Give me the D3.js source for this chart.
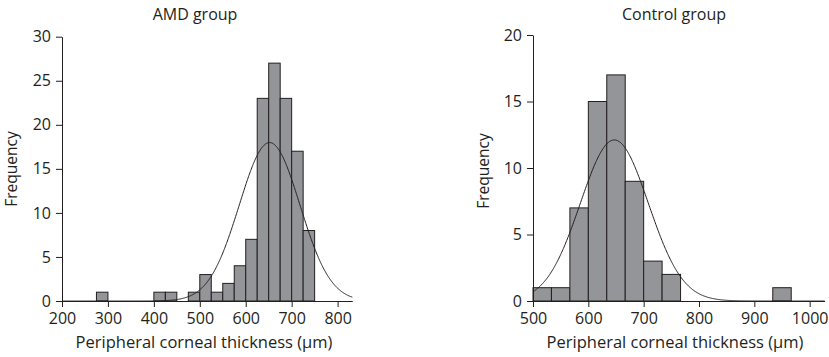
<!DOCTYPE html>
<html>
<head>
<meta charset="utf-8">
<script src="https://cdn.jsdelivr.net/npm/d3@7"></script>
<style>
  body { margin: 0; background: #fff; }
  svg text { font-family: "Open Sans", sans-serif; fill: #231f20; }
</style>
</head>
<body>
<svg id="chart" width="829" height="357"></svg>
<script>
// AMD group: 25 µm bins
const amdBinStarts = [275, 400, 425, 475, 500, 525, 550, 575, 600, 625, 650, 675, 700, 725]
const amdCounts    = [1, 1, 1, 1, 3, 1, 2, 4, 7, 23, 27, 23, 17, 8]
const amdBinWidth = 25
const amdFit = { mean: 652, sd: 66 }
const amdXTicks = [200, 300, 400, 500, 600, 700, 800]
const amdYTicks = [0, 5, 10, 15, 20, 25, 30]

// Control group: 33.3 µm bins
const ctrlBinWidth = 100 / 3
const ctrlBinStarts = [500, 500 + 100/3, 500 + 200/3, 600, 600 + 100/3, 600 + 200/3, 700, 700 + 100/3, 900 + 100/3]
const ctrlCounts    = [1, 1, 7, 15, 17, 9, 3, 2, 1]
const ctrlFit = { mean: 647, sd: 61.5 }
const ctrlXTicks = [500, 600, 700, 800, 900, 1000]
const ctrlYTicks = [0, 5, 10, 15, 20]

const svg = d3.select('#chart')

function panel(opt) {
  const x = d3.scaleLinear().domain(opt.xDomain).range(opt.xRange)
  const y = d3.scaleLinear().domain(opt.yDomain).range([301, opt.yTop])
  const g = svg.append('g')

  const bins = opt.starts.map((s, i) => ({ x0: s, x1: s + opt.binWidth, n: opt.counts[i] }))

  g.append('g').selectAll('rect')
    .data(bins)
    .enter().append('rect')
    .attr('x', d => x(d.x0))
    .attr('y', d => y(d.n))
    .attr('width', d => x(d.x1) - x(d.x0))
    .attr('height', d => y(0) - y(d.n))
    .attr('fill', '#939598')
    .attr('stroke', '#231f20')
    .attr('stroke-width', 1)

  // fitted normal curve scaled to counts
  const total = d3.sum(opt.counts)
  const k = total * opt.binWidth / (opt.fit.sd * Math.sqrt(2 * Math.PI))
  const xs = d3.range(opt.xDomain[0], opt.xDomain[1] + 0.5, 1)
  const line = d3.line()
    .x(v => x(v))
    .y(v => y(k * Math.exp(-0.5 * Math.pow((v - opt.fit.mean) / opt.fit.sd, 2))))
  g.append('path')
    .attr('d', line(xs))
    .attr('fill', 'none')
    .attr('stroke', '#231f20')
    .attr('stroke-width', 1)

  const xAxis = g.append('g')
    .attr('transform', `translate(0,${y(0)})`)
    .call(d3.axisBottom(x).tickValues(opt.xTicks).tickFormat(d3.format('d'))
      .tickSize(6).tickSizeOuter(0).tickPadding(6))
  const yAxis = g.append('g')
    .attr('transform', `translate(${x(opt.xDomain[0])},0)`)
    .call(d3.axisLeft(y).tickValues(opt.yTicks).tickSize(6).tickSizeOuter(0).tickPadding(5))

  ;[xAxis, yAxis].forEach(a => {
    a.select('.domain').attr('stroke', '#231f20')
    a.selectAll('.tick line').attr('stroke', '#231f20')
    a.selectAll('.tick text').style('font-size', '16px').attr('fill', '#231f20')
  })

  g.append('text')
    .attr('x', opt.titleX).attr('y', 20)
    .attr('text-anchor', 'middle')
    .style('font-size', '16px')
    .text(opt.title)

  g.append('text')
    .attr('x', opt.labelX).attr('y', 348)
    .attr('text-anchor', 'middle')
    .style('font-size', '16.5px')
    .text('Peripheral corneal thickness (µm)')

  g.append('text')
    .attr('transform', `translate(${opt.freqX},${opt.freqY}) rotate(-90)`)
    .attr('text-anchor', 'middle')
    .style('font-size', '15.5px')
    .text('Frequency')
}

panel({
  xDomain: [200, 832], xRange: [62, 352.3],
  yDomain: [0, 30], yTop: 36.7,
  starts: amdBinStarts, counts: amdCounts, binWidth: amdBinWidth, fit: amdFit,
  xTicks: amdXTicks, yTicks: amdYTicks,
  title: 'AMD group', titleX: 195, labelX: 204, freqX: 17, freqY: 169
})

panel({
  xDomain: [500, 1027], xRange: [533, 824.6],
  yDomain: [0, 20], yTop: 35,
  starts: ctrlBinStarts, counts: ctrlCounts, binWidth: ctrlBinWidth, fit: ctrlFit,
  xTicks: ctrlXTicks, yTicks: ctrlYTicks,
  title: 'Control group', titleX: 674, labelX: 675, freqX: 489, freqY: 171
})
</script>
</body>
</html>
